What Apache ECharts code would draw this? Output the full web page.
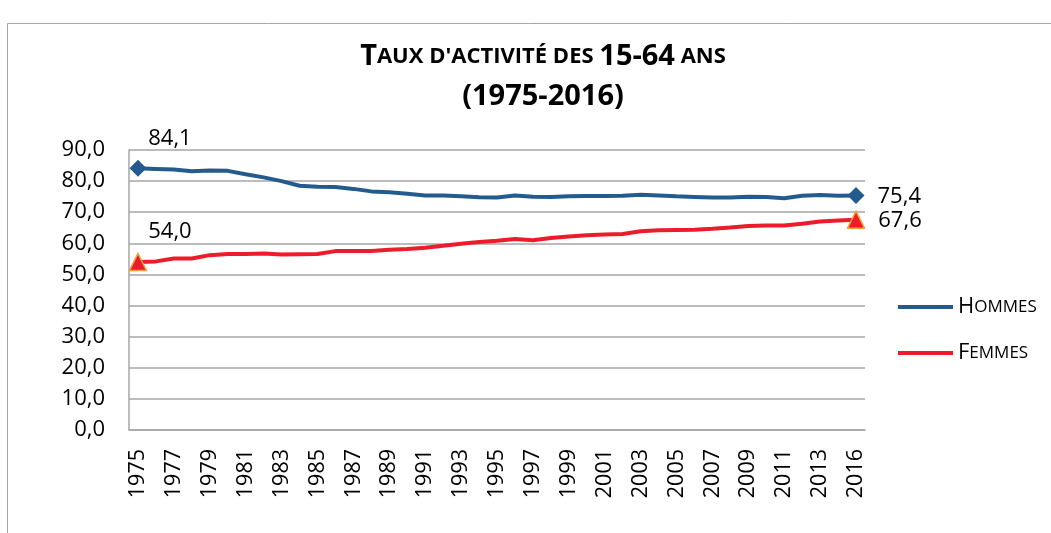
<!DOCTYPE html>
<html>
<head>
<meta charset="utf-8">
<script src="https://cdn.jsdelivr.net/npm/echarts@6/dist/echarts.min.js"></script>
<style>
html,body{margin:0;padding:0;background:#fff;}
#c{width:1051px;height:533px;}
</style>
</head>
<body>
<div id="c"></div>
<script>
const years = ['1975','1976','1977','1978','1979','1980','1981','1982','1983','1984','1985','1986','1987','1988','1989','1990','1991','1992','1993','1994','1995','1996','1997','1998','1999','2000','2001','2002','2003','2004','2005','2006','2007','2008','2009','2010','2011','2012','2013','2014','2016'];
const hommes = [84.1,83.9,83.7,83.2,83.4,83.3,82.2,81.2,80.0,78.5,78.2,78.1,77.5,76.7,76.4,75.9,75.4,75.4,75.1,74.8,74.7,75.4,75.0,74.9,75.1,75.2,75.2,75.3,75.6,75.4,75.1,74.9,74.7,74.7,75.0,74.9,74.5,75.3,75.5,75.3,75.4];
const femmes = [54.0,54.2,55.1,55.1,56.2,56.6,56.6,56.7,56.4,56.5,56.6,57.5,57.5,57.5,57.9,58.2,58.6,59.2,59.9,60.4,60.8,61.4,61.0,61.7,62.2,62.6,62.8,63.0,63.9,64.2,64.3,64.4,64.7,65.1,65.6,65.7,65.7,66.3,67.0,67.3,67.6];
const yTicks = {min: 0, max: 90, interval: 10};
const seriesNames = ['Hommes', 'Femmes'];

const fmt = v => v.toFixed(1).replace('.', ',');
const last = years.length - 1;
const axisFont = 'Open Sans';

function buildData(arr) {
  return arr.map((v, i) => {
    if (i === 0) return {value: v, label: {show: true, position: 'top', distance: 4, offset: [32, -6]}};
    if (i === last) return {value: v, label: {show: true, position: 'right', distance: 4, offset: [9, 1]}};
    return v;
  });
}

const chart = echarts.init(document.getElementById('c'), null, {renderer: 'canvas'});
chart.setOption({
  animation: false,
  backgroundColor: '#fff',
  graphic: [{
    type: 'polyline',
    shape: {points: [[7.5, 533], [7.5, 23.5], [1051, 23.5]]},
    style: {stroke: '#a6a6a6', lineWidth: 1, fill: null},
    silent: true
  }],
  title: {
    text: '{B|T}{s|AUX D\'ACTIVITÉ DES }{B|15-64}{s| ANS}\n{B|(1975-2016)}',
    left: 538,
    textAlign: 'center',
    top: 32,
    textStyle: {
      rich: {
        B: {fontFamily: 'Open Sans', fontWeight: 'bold', fontSize: 29, color: '#000', lineHeight: 40},
        s: {fontFamily: 'Open Sans', fontWeight: 'bold', fontSize: 22, color: '#000', lineHeight: 40}
      }
    }
  },
  legend: {
    orient: 'vertical',
    left: 893,
    top: 291,
    itemWidth: 55,
    itemHeight: 4,
    itemGap: 24,
    icon: 'rect',
    itemStyle: {borderWidth: 0},
    data: seriesNames,
    formatter: n => '{b|' + n.charAt(0).toUpperCase() + '}{s|' + n.slice(1).toUpperCase() + '}',
    textStyle: {
      rich: {
        b: {fontFamily: 'Open Sans', fontSize: 22, color: '#000', lineHeight: 24},
        s: {fontFamily: 'Open Sans', fontSize: 17, color: '#000', lineHeight: 24}
      }
    }
  },
  grid: {left: 129, right: 186, top: 150, bottom: 103, containLabel: false},
  xAxis: {
    type: 'category',
    data: years,
    boundaryGap: true,
    axisLine: {show: true, lineStyle: {color: '#a6a6a6', width: 1.5}},
    axisTick: {show: false},
    axisLabel: {interval: 1, rotate: 90, margin: 19, fontFamily: axisFont, fontSize: 21.5, color: '#000'}
  },
  yAxis: {
    type: 'value',
    min: yTicks.min, max: yTicks.max, interval: yTicks.interval,
    axisLine: {show: true, lineStyle: {color: '#a6a6a6', width: 1.5}},
    axisTick: {show: false},
    splitLine: {lineStyle: {color: '#a6a6a6', width: 1.5}},
    axisLabel: {margin: 24, fontFamily: axisFont, fontSize: 22, color: '#000', formatter: v => fmt(v)}
  },
  series: [{
    name: seriesNames[0],
    type: 'line',
    data: buildData(hommes),
    symbol: 'diamond',
    symbolSize: (v, p) => (p.dataIndex === 0 || p.dataIndex === last) ? 17 : 0,
    showAllSymbol: true,
    lineStyle: {color: '#245b8f', width: 4},
    itemStyle: {color: '#245b8f'},
    label: {show: false, fontFamily: axisFont, fontSize: 22, color: '#000', formatter: p => fmt(p.value)},
    z: 3
  }, {
    name: seriesNames[1],
    type: 'line',
    data: buildData(femmes),
    symbol: 'triangle',
    symbolSize: (v, p) => (p.dataIndex === 0 || p.dataIndex === last) ? 17 : 0,
    showAllSymbol: true,
    lineStyle: {color: '#ec1c2a', width: 4},
    itemStyle: {color: '#ec1c2a', borderColor: '#f5a03a', borderWidth: 1.5},
    label: {show: false, fontFamily: axisFont, fontSize: 22, color: '#000', formatter: p => fmt(p.value)},
    z: 3
  }]
});
</script>
</body>
</html>
